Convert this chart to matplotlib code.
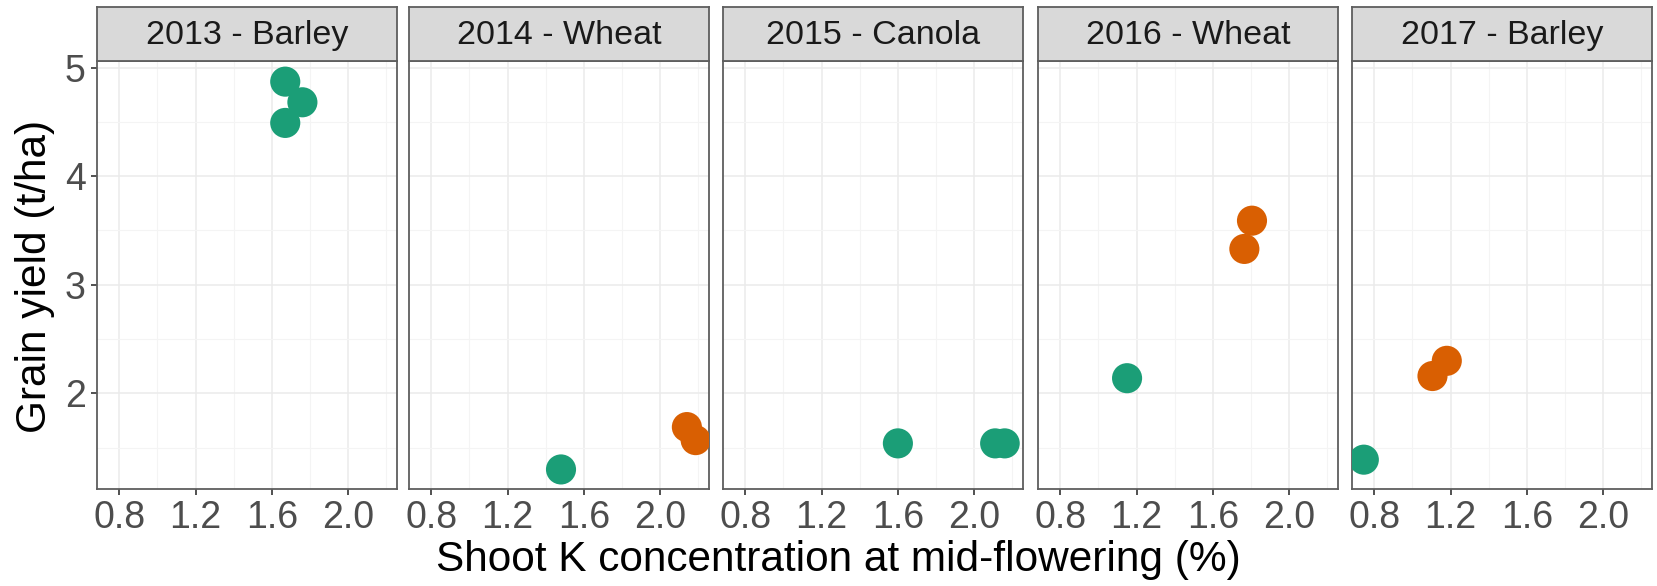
import matplotlib
matplotlib.use("Agg")
import matplotlib.pyplot as plt
import numpy as np

plt.rcParams['font.family'] = ['Liberation Sans', 'DejaVu Sans']

# Facets: one panel per season
seasons = ["2013 - Barley", "2014 - Wheat", "2015 - Canola", "2016 - Wheat", "2017 - Barley"]

# Shoot K (%) and grain yield (t/ha) per season, split by group
green_k = [[1.67, 1.76, 1.67], [1.48], [1.60, 2.11, 2.16], [1.15], [0.745]]
green_yield = [[4.87, 4.68, 4.49], [1.30], [1.54, 1.54, 1.54], [2.14], [1.39]]
orange_k = [[], [2.14, 2.186], [], [1.805, 1.765], [1.18, 1.105]]
orange_yield = [[], [1.69, 1.57], [], [3.59, 3.33], [2.30, 2.16]]

green = "#1B9E77"
orange = "#D95F02"

x_ticks = [0.8, 1.2, 1.6, 2.0]
x_minor = [1.0, 1.4, 1.8, 2.2]
y_ticks = [2, 3, 4, 5]
y_minor = [1.5, 2.5, 3.5, 4.5]

W, H = 1657, 586
fig = plt.figure(figsize=(W / 100, H / 100), dpi=100)

panel_left = [97, 409, 723, 1038, 1352]
panel_w = 300
strip_top, strip_bot, panel_bot = 7, 61, 489

border = "#5E5E5E"

for i, name in enumerate(seasons):
    x0 = panel_left[i] / W
    ax = fig.add_axes([x0, 1 - panel_bot / H, panel_w / W, (panel_bot - strip_bot) / H])
    ax.set_xlim(0.683, 2.256)
    ax.set_ylim(1.12, 5.06)
    ax.set_xticks(x_ticks)
    ax.set_xticklabels([f"{v:.1f}" for v in x_ticks])
    ax.set_xticks(x_minor, minor=True)
    ax.set_yticks(y_ticks)
    ax.set_yticks(y_minor, minor=True)
    ax.grid(which="major", color="#EBEBEB", lw=1.1, zorder=0)
    ax.grid(which="minor", color="#F4F4F4", lw=0.8, zorder=0)
    ax.set_axisbelow(True)
    ax.tick_params(which="minor", length=0)
    ax.tick_params(which="major", length=4, width=1.2, color="#333333",
                   labelsize=27, labelcolor="#4D4D4D", pad=4)
    if i > 0:
        ax.tick_params(axis="y", left=False, labelleft=False)
    for s in ax.spines.values():
        s.set_color(border)
        s.set_linewidth(1.3)

    ax.scatter(green_k[i], green_yield[i], s=470, color=green, edgecolors="none", zorder=3)
    ax.scatter(orange_k[i], orange_yield[i], s=470, color=orange, edgecolors="none", zorder=3)

    # strip header
    sax = fig.add_axes([x0, 1 - strip_bot / H, panel_w / W, (strip_bot - strip_top) / H])
    sax.set_facecolor("#D9D9D9")
    sax.set_xticks([])
    sax.set_yticks([])
    for s in sax.spines.values():
        s.set_color(border)
        s.set_linewidth(1.3)
    sax.text(0.5, 0.47, name, ha="center", va="center", fontsize=24.5,
             color="#1A1A1A", transform=sax.transAxes)

fig.text(838 / W, 1 - 560 / H, "Shoot K concentration at mid-flowering (%)",
         ha="center", va="center", fontsize=30.5)
fig.text(35 / W, 1 - 276 / H, "Grain yield (t/ha)", ha="center", va="center",
         rotation=90, fontsize=30.5)

fig.savefig("out.png", dpi=100)
